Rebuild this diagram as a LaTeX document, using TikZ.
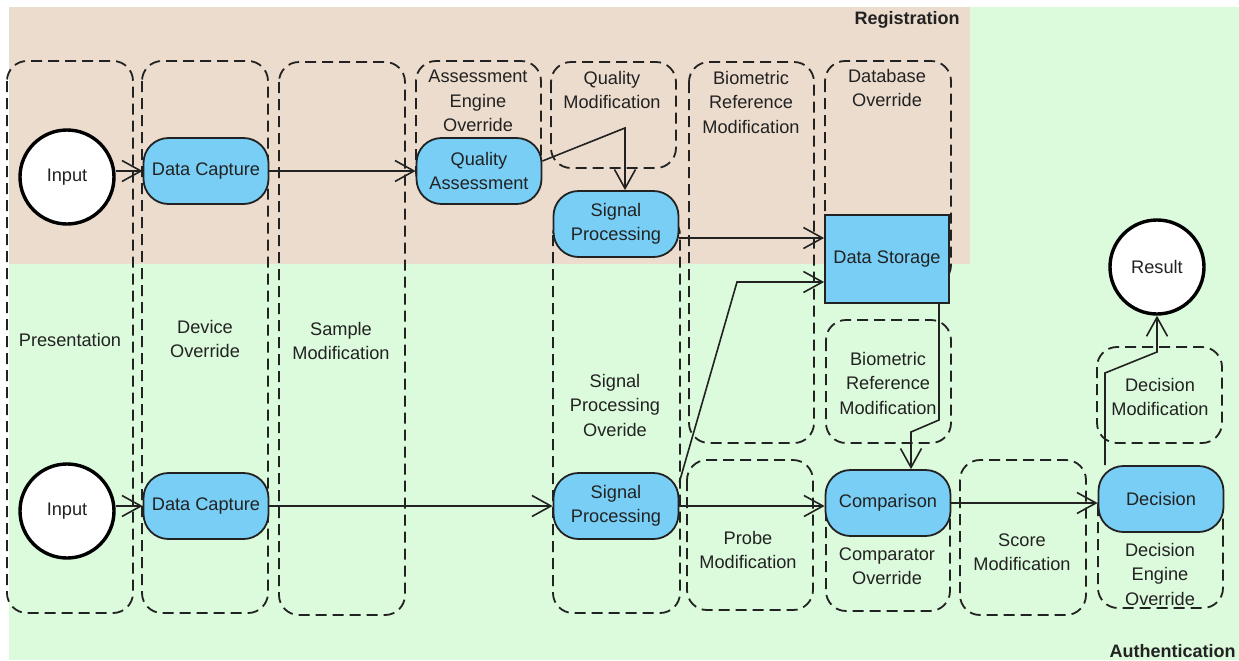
\documentclass[tikz,border=0pt]{standalone}
\usepackage{fontspec}
\setmainfont{Liberation Sans}
\usetikzlibrary{arrows.meta}
\definecolor{regbg}{RGB}{236,220,205}
\definecolor{authbg}{RGB}{220,250,220}
\definecolor{procfill}{RGB}{120,206,245}
\definecolor{inkgray}{RGB}{34,34,34}

\begin{document}
\begin{tikzpicture}[x=0.5pt,y=-0.5pt,
  zone/.style={draw=inkgray, line width=0.9pt, dash pattern=on 5.5pt off 3pt, rounded corners=10pt},
  txt/.style={font=\fontsize{9.1}{12.25}\selectfont, text=inkgray},
  proc/.style={txt, draw=inkgray, fill=procfill, line width=0.9pt, rounded corners=12.5pt,
    minimum width=62.5pt, minimum height=33pt, align=center, inner sep=0pt},
  store/.style={txt, draw=inkgray, fill=procfill, line width=0.9pt,
    minimum width=62pt, minimum height=44pt, inner sep=0pt},
  terminal/.style={txt, circle, draw=black, fill=white, line width=1.7pt,
    minimum size=47pt, inner sep=0pt},
  lbl/.style={txt, align=center, inner sep=0pt},
  arr/.style={draw=inkgray, line width=0.8pt, -{Straight Barb[length=9.5pt,width=10.5pt]}},
  phase/.style={font=\bfseries\fontsize{9}{11}\selectfont, text=inkgray, anchor=east, inner sep=0pt}
]
\useasboundingbox (0,0) rectangle (1239,660);

% phase backgrounds
\fill[authbg] (9,7) rectangle (1239,660);
\fill[regbg] (9,7) rectangle (970,264);
\node[phase] (regtitle) at (960,20) {Registration};
\node[phase] (authtitle) at (1236,651) {Authentication};

% attack-point zones
\draw[zone] (7,61) rectangle (133,613);
\draw[zone] (142,61) rectangle (268,613);
\draw[zone] (279,62) rectangle (405,615);
\draw[zone] (416,61) rectangle (541,192);
\draw[zone] (551,62) rectangle (676,168);
\draw[zone] (553,215) rectangle (680,613);
\draw[zone] (689,62) rectangle (814,443);
\draw[zone] (825,61) rectangle (951,285);
\draw[zone] (826,320) rectangle (951,443);
\draw[zone] (687,460) rectangle (813,610);
\draw[zone] (826,490) rectangle (950,611);
\draw[zone] (960,460) rectangle (1086,615);
\draw[zone] (1097,347) rectangle (1222,443);
\draw[zone] (1098,485) rectangle (1223,608);

% processing steps
\node[terminal] (in1) at (67,177) {Input};
\node[terminal] (in2) at (67,511) {Input};
\node[terminal] (res) at (1157,267) {Result};
\node[proc] (dc1) at (206,171) {Data Capture};
\node[proc] (dc2) at (206,506) {Data Capture};
\node[proc] (qa) at (479,171) {Quality\\Assessment};
\node[proc] (sp1) at (616,224) {Signal\\Processing};
\node[proc] (sp2) at (616,506) {Signal\\Processing};
\node[store] (ds) at (887,259) {Data Storage};
\node[proc] (cmp) at (888,503) {Comparison};
\node[proc] (dec) at (1161,499) {Decision};

% bend points
\coordinate (b1) at (625,128);
\coordinate (b2) at (737,282);
\coordinate (b3) at (939,420);
\coordinate (b4) at (911,432);
\coordinate (b5) at (1105,373);
\coordinate (b6) at (1157,352);

% flows
\draw[arr] (in1.east |- dc1) -- (dc1);
\draw[arr] (dc1) -- (qa);
\draw[arr] ([yshift=5pt]qa.east) -- (b1) -- (b1 |- sp1.north);
\draw[arr] ([yshift=-7pt]sp1.east) -- ([yshift=-7pt]sp1.east -| ds.west);
\draw[arr] (in2.east |- dc2) -- (dc2);
\draw[arr] (dc2) -- (sp2);
\draw[arr] ([yshift=12pt]sp2.east) -- (b2) -- (b2 -| ds.west);
\draw[arr] (sp2.east) -- (sp2.east -| cmp.west);
\draw[arr] (ds.south -| b3) -- (b3) -- (b4) -- (b4 |- cmp.north);
\draw[arr] (cmp.east) -- (cmp.east -| dec.west);
\draw[arr] (dec.north -| b5) -- (b5) -- (b6) -- (res.south);

% zone labels
\node[lbl] (lpres) at (70,340) {Presentation};
\node[lbl] (ldev) at (205,339) {Device\\Override};
\node[lbl] (lsamp) at (341,341) {Sample\\Modification};
\node[lbl] (lae) at (478,101) {Assessment\\Engine\\Override};
\node[lbl] (lqm) at (612,90) {Quality\\Modification};
\node[lbl] (lbr1) at (751,102) {Biometric\\Reference\\Modification};
\node[lbl] (ldb) at (887,88) {Database\\Override};
\node[lbl] (lspo) at (615,405) {Signal\\Processing\\Overide};
\node[lbl] (lbr2) at (888,383) {Biometric\\Reference\\Modification};
\node[lbl] (ldm) at (1160,397) {Decision\\Modification};
\node[lbl] (lpm) at (748,550) {Probe\\Modification};
\node[lbl] (lco) at (887,566) {Comparator\\Override};
\node[lbl] (lsm) at (1022,552) {Score\\Modification};
\node[lbl] (lde) at (1160,574) {Decision\\Engine\\Override};
\end{tikzpicture}
\end{document}
